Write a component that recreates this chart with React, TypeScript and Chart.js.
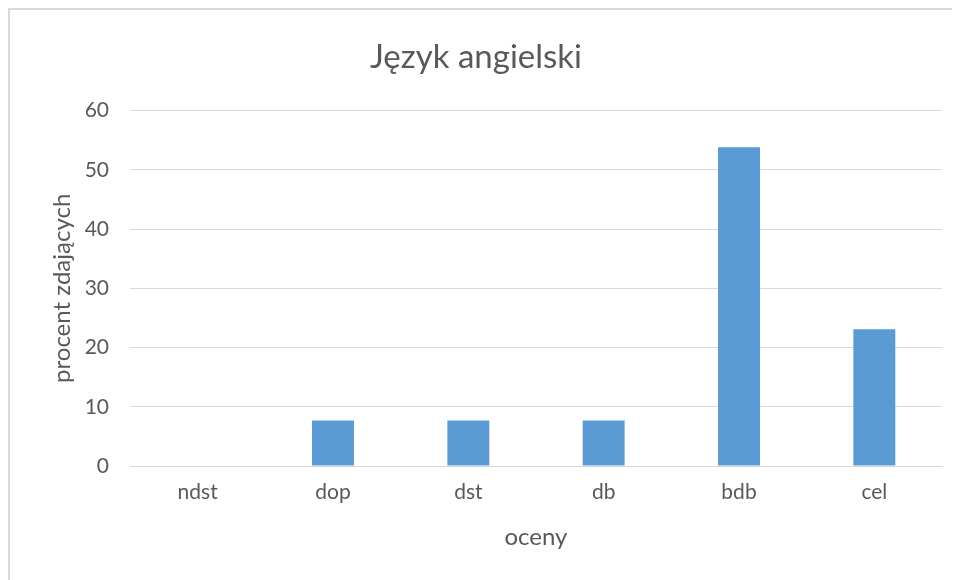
import React, { useEffect, useRef } from "react";
import { Chart, registerables } from "chart.js";

Chart.register(...registerables);

const categories = ["ndst", "dop", "dst", "db", "bdb", "cel"];
const percentValues = [0, 7.7, 7.7, 7.7, 53.8, 23.1];
const chartTitle = "Język angielski";
const xTitle = "oceny";
const yTitle = "procent zdających";

const FONT = "Lato, 'Open Sans', sans-serif";
const TEXT = "#595959";
const GRID = "#d9d9d9";

export default function App() {
  const ref = useRef<HTMLCanvasElement | null>(null);

  useEffect(() => {
    if (!ref.current) return;
    const chart = new Chart(ref.current, {
      type: "bar",
      data: {
        labels: categories,
        datasets: [
          {
            label: "procent",
            data: percentValues,
            backgroundColor: "#5b9bd5",
            borderWidth: 0,
            barPercentage: 0.31,
            categoryPercentage: 1,
          },
        ],
      },
      options: {
        animation: false,
        responsive: false,
        maintainAspectRatio: false,
        layout: { padding: { top: 0, right: 18, bottom: 0, left: 0 } },
        plugins: {
          legend: { display: false },
          tooltip: { enabled: false },
          title: {
            display: true,
            text: chartTitle,
            color: TEXT,
            font: { family: FONT, size: 33, weight: "normal" },
            padding: { top: 28, bottom: 33 },
          },
        },
        scales: {
          x: {
            grid: { display: false, drawTicks: false },
            border: { display: true, color: GRID, width: 1 },
            ticks: {
              color: TEXT,
              font: { family: FONT, size: 21 },
              padding: 14,
            },
            title: {
              display: true,
              text: xTitle,
              color: TEXT,
              font: { family: FONT, size: 24 },
              padding: { top: 10, bottom: 28 },
            },
            afterFit: (s: any) => {
              s.height = 114;
            },
          },
          y: {
            min: 0,
            max: 60,
            grid: { color: GRID, lineWidth: 1, drawTicks: false },
            border: { display: false },
            ticks: {
              stepSize: 10,
              color: TEXT,
              font: { family: FONT, size: 21 },
              padding: 21,
            },
            title: {
              display: true,
              text: yTitle,
              color: TEXT,
              font: { family: FONT, size: 24 },
              padding: { top: 38, bottom: 0 },
            },
            afterFit: (s: any) => {
              s.width = 120;
            },
          },
        },
      },
    });
    return () => chart.destroy();
  }, []);

  return (
    <div
      style={{
        width: 950,
        height: 570,
        borderLeft: "2px solid #d9d9d9",
        borderTop: "2px solid #d9d9d9",
        background: "#fff",
      }}
    >
      <canvas ref={ref} width={950} height={570} style={{ display: "block" }} />
    </div>
  );
}
